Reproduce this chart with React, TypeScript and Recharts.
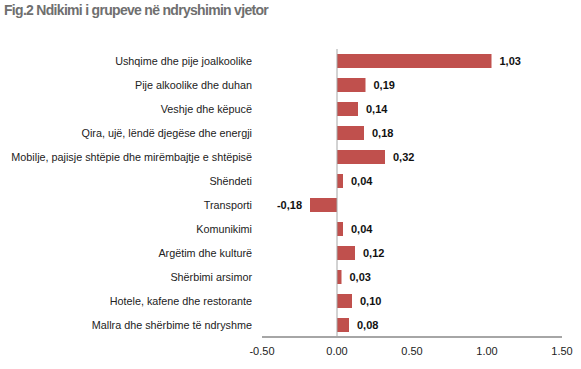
import React from "react";
import { Bar, BarChart, LabelList, ReferenceLine, XAxis, YAxis } from "recharts";

const categories = [
  "Ushqime dhe pije joalkoolike",
  "Pije alkoolike dhe duhan",
  "Veshje dhe këpucë",
  "Qira, ujë, lëndë djegëse dhe energji",
  "Mobilje, pajisje shtëpie dhe mirëmbajtje e shtëpisë",
  "Shëndeti",
  "Transporti",
  "Komunikimi",
  "Argëtim dhe kulturë",
  "Shërbimi arsimor",
  "Hotele, kafene dhe restorante",
  "Mallra dhe shërbime të ndryshme",
];
const values = [1.03, 0.19, 0.14, 0.18, 0.32, 0.04, -0.18, 0.04, 0.12, 0.03, 0.1, 0.08];
const xTicks = [-0.5, 0, 0.5, 1, 1.5];

const data = categories.map((name, i) => ({ name, value: values[i] }));

const FONT = "'Liberation Sans', Arial, sans-serif";

function ValueLabel(props: any) {
  const { x, y, width, height, value } = props;
  const end = Number(x) + Number(width);
  const neg = value < 0;
  return (
    <text
      x={neg ? end - 8 : end + 8}
      y={Number(y) + Number(height) / 2}
      dy={4}
      textAnchor={neg ? "end" : "start"}
      fontSize={11}
      fontWeight="bold"
      fontFamily={FONT}
      fill="#111"
    >
      {Number(value).toFixed(2).replace(".", ",")}
    </text>
  );
}

// single-line category label (default tick wraps long names)
function CategoryTick(props: any) {
  const { x, y, payload } = props;
  return (
    <text x={x} y={y} dy={4} textAnchor="end" fontSize={10.8} fontFamily={FONT} fill="#222">
      {payload.value}
    </text>
  );
}

export default function App() {
  return (
    <div style={{ position: "absolute", left: 0, top: 0, width: 581, height: 369, background: "#fff" }}>
      <div
        style={{
          position: "absolute",
          left: 4,
          top: 2,
          fontFamily: FONT,
          fontWeight: "bold",
          fontSize: 14,
          letterSpacing: -0.7,
          color: "#6f6f6f",
        }}
      >
        Fig.2 Ndikimi i grupeve në ndryshimin vjetor
      </div>
      <BarChart
        width={581}
        height={369}
        data={data}
        layout="vertical"
        margin={{ top: 49, right: 19, bottom: 7, left: 0 }}
      >
        <XAxis
          type="number"
          domain={[-0.5, 1.5]}
          ticks={xTicks}
          tickFormatter={(v: number) => v.toFixed(2)}
          axisLine={{ stroke: "#a6a6a6", strokeWidth: 2 }}
          tickLine={false}
          tickSize={0}
          tickMargin={10}
          height={25}
          tick={{ fontSize: 11, fill: "#222", fontFamily: FONT }}
        />
        <YAxis
          type="category"
          dataKey="name"
          width={262}
          axisLine={false}
          tickLine={false}
          tickSize={0}
          tickMargin={10}
          interval={0}
          tick={<CategoryTick />}
        />
        <ReferenceLine x={0} stroke="#a6a6a6" strokeWidth={1} />
        <Bar dataKey="value" fill="#C0504D" barSize={14} isAnimationActive={false}>
          <LabelList dataKey="value" content={ValueLabel} />
        </Bar>
      </BarChart>
    </div>
  );
}
